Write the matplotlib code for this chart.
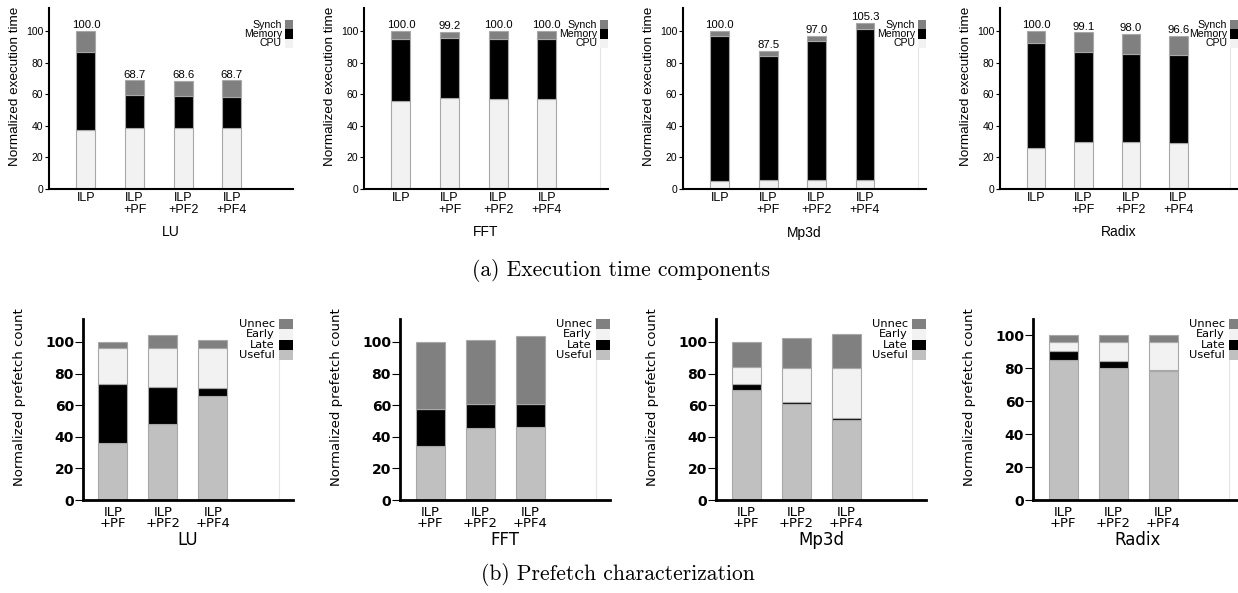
import matplotlib
matplotlib.use("Agg")
import matplotlib.pyplot as plt
from matplotlib import font_manager
from matplotlib.patches import Rectangle
import numpy as np

# data
apps = ["LU", "FFT", "Mp3d", "Radix"]
time_configs = ["ILP", "ILP\n+PF", "ILP\n+PF2", "ILP\n+PF4"]
pf_configs = ["ILP\n+PF", "ILP\n+PF2", "ILP\n+PF4"]

# (a) execution time components, one row per app
cpu = [[37.1, 38.8, 38.8, 38.4],
       [55.7, 57.4, 57.0, 57.0],
       [5.3, 5.7, 5.7, 5.7],
       [26.2, 29.5, 29.5, 29.3]]
memory = [[49.6, 20.9, 19.8, 19.8],
          [39.0, 38.4, 37.7, 37.7],
          [91.7, 78.7, 88.2, 95.8],
          [66.4, 57.4, 56.2, 55.5]]
synch = [[13.3, 9.0, 10.0, 10.5],
         [5.3, 3.4, 5.3, 5.3],
         [3.0, 3.1, 3.1, 3.8],
         [7.4, 12.2, 12.3, 11.8]]

# (b) prefetch characterization
useful = [[36.2, 47.8, 65.5],
          [34.2, 45.7, 45.9],
          [69.3, 60.7, 50.7],
          [85.3, 80.2, 78.2]]
late = [[36.9, 23.6, 5.2],
        [23.6, 15.1, 14.9],
        [3.9, 1.3, 1.1],
        [5.2, 4.4, 0.6]]
early = [[23.3, 25.0, 25.7],
         [0.0, 0.0, 0.0],
         [10.7, 21.7, 31.7],
         [5.5, 11.4, 17.2]]
unnec = [[3.6, 8.2, 5.1],
         [42.2, 40.5, 42.7],
         [16.1, 18.8, 21.5],
         [4.0, 4.0, 4.0]]

LIGHT = "#f2f2f2"
DARK = "#808080"
MID = "#c0c0c0"
BLACK = "#000000"
EDGE = "#a8a8a8"

W, H = 1238, 593
names = {f.name for f in font_manager.fontManager.ttflist}
top_font = "Liberation Sans" if "Liberation Sans" in names else "DejaVu Sans"
if "Liberation Sans Narrow" in names:
    narrow, narrow_size = "Liberation Sans Narrow", 12
else:
    narrow, narrow_size = "DejaVu Sans", 9.5
wide = "DejaVu Sans"

fig = plt.figure(figsize=(W / 100, H / 100), dpi=100)


def legend(ax, w_px, h_px, entries, top_px, sq_w, sq_h, font, size, gap, line=True):
    for i, (name, color) in enumerate(entries):
        top = 1 - (top_px + sq_h * i) / h_px
        ax.add_patch(Rectangle((1 - sq_w / w_px, top - sq_h / h_px), sq_w / w_px, sq_h / h_px,
                               transform=ax.transAxes, facecolor=color, edgecolor="none",
                               clip_on=False))
        ax.text(1 - (sq_w + gap) / w_px, top - sq_h / 2 / h_px, name, ha="right", va="center",
                fontsize=size, family=font, transform=ax.transAxes)
    if line:
        bottom = 1 - (top_px + sq_h * len(entries)) / h_px
        ax.plot([1 - sq_w / w_px] * 2, [0, bottom], transform=ax.transAxes,
                color="#e4e4e4", lw=0.8, clip_on=False)


# top row
top_lefts = [49, 364, 683, 1000]
top_widths = [244, 244, 243, 238]
for k, app in enumerate(apps):
    ax = fig.add_axes([top_lefts[k] / W, 1 - 189 / H, top_widths[k] / W, 181 / H])
    x = np.arange(len(time_configs))
    c = np.array(cpu[k])
    m = np.array(memory[k])
    s = np.array(synch[k])
    kw = dict(width=0.39, edgecolor=EDGE, linewidth=0.8)
    ax.bar(x, c, color=LIGHT, **kw)
    ax.bar(x, m, bottom=c, color=BLACK, **kw)
    ax.bar(x, s, bottom=c + m, color=DARK, **kw)
    for xi, t in zip(x, c + m + s):
        ax.text(xi, t + 0.6, f"{t:.1f}", ha="center", va="bottom", fontsize=8.2, family=top_font)
    ax.set_xlim(-0.76, 4.26)
    ax.set_ylim(0, 114.6)
    ax.set_yticks(range(0, 101, 20))
    ax.set_xticks(x)
    ax.set_xticklabels(time_configs, family=top_font, fontsize=9, linespacing=1.0)
    for lbl in ax.get_yticklabels():
        lbl.set_family(top_font)
    ax.tick_params(axis="x", length=0, pad=2)
    ax.tick_params(axis="y", length=3, width=0.8, labelsize=7.5, pad=1)
    for sp in ("top", "right"):
        ax.spines[sp].set_visible(False)
    for sp in ("left", "bottom"):
        ax.spines[sp].set_linewidth(1.5)
    ax.set_xlabel(app, family=top_font, fontsize=10, labelpad=7)
    ax.set_ylabel("Normalized execution time", family=top_font, fontsize=9.7)
    ax.yaxis.set_label_coords(-28 / top_widths[k], 0.569)
    legend(ax, top_widths[k], 181, [("Synch", DARK), ("Memory", BLACK), ("CPU", LIGHT)],
           12, 8, 9.3, top_font, 7.6, 3, line=(k > 0))

# bottom row
bot_lefts = [83, 400, 716, 1033]
bot_width = 210
bot_ylim = [114.5, 114.5, 114.5, 110]
for k, app in enumerate(apps):
    ax = fig.add_axes([bot_lefts[k] / W, 1 - 500 / H, bot_width / W, 181 / H])
    x = np.arange(len(pf_configs))
    u = np.array(useful[k])
    la = np.array(late[k])
    e = np.array(early[k])
    un = np.array(unnec[k])
    kw = dict(width=0.58, edgecolor=EDGE, linewidth=0.8)
    ax.bar(x, u, color=MID, **kw)
    ax.bar(x, la, bottom=u, color=BLACK, **kw)
    ax.bar(x, e, bottom=u + la, color=LIGHT, **kw)
    ax.bar(x, un, bottom=u + la + e, color=DARK, **kw)
    ax.set_xlim(-0.6, 3.6)
    ax.set_ylim(0, bot_ylim[k])
    ax.set_yticks(range(0, 101, 20))
    ax.set_xticks(x)
    ax.set_xticklabels(pf_configs, family=wide, fontsize=9.5, linespacing=0.85)
    for lbl in ax.get_yticklabels():
        lbl.set_family(wide)
        lbl.set_fontweight("bold")
    ax.tick_params(axis="x", length=0, pad=4)
    ax.tick_params(axis="y", length=6, width=0.8, labelsize=10, pad=0.5)
    for sp in ("top", "right"):
        ax.spines[sp].set_visible(False)
    for sp in ("left", "bottom"):
        ax.spines[sp].set_linewidth(2)
    ax.set_xlabel(app, family=wide, fontsize=12, labelpad=1)
    ax.set_ylabel("Normalized prefetch count", family=narrow, fontsize=narrow_size)
    ax.yaxis.set_label_coords(-57 / bot_width, 0.566)
    legend(ax, bot_width, 181, [("Unnec", DARK), ("Early", LIGHT), ("Late", BLACK), ("Useful", MID)],
           0, 14, 10.3, wide, 8.2, 4)

fig.text(621 / W, 1 - 270 / H, "(a) Execution time components", family="cmr10",
         fontsize=15.5, ha="center", va="center")
fig.text(618 / W, 1 - 574 / H, "(b) Prefetch characterization", family="cmr10",
         fontsize=15.5, ha="center", va="center")

fig.savefig("out.png", dpi=100)
